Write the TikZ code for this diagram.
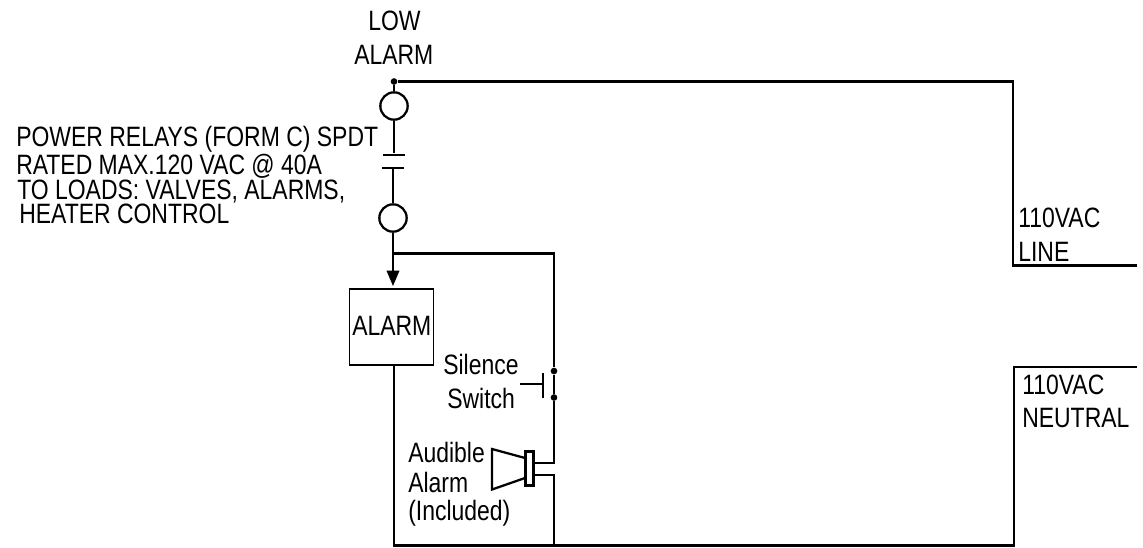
\documentclass[tikz,border=0pt]{standalone}
\usepackage{fontspec}
\setmainfont[FakeStretch=0.82]{Liberation Sans}
\usetikzlibrary{arrows,positioning}
\tikzset{
    wire/.style={line width=1.7pt},
    lamp/.style={circle,draw,line width=1.7pt,minimum size=20.5pt,inner sep=0pt},
    plate/.style={rectangle,fill=black,minimum width=16pt,minimum height=1.7pt,inner sep=0pt},
    junction/.style={circle,fill=black,minimum size=5pt,inner sep=0pt},
    lbl/.style={anchor=base west,inner sep=0pt,font=\fontsize{21}{21}\selectfont}
}
\begin{document}
\begin{tikzpicture}[x=0.75pt,y=-0.75pt,>=triangle 45,auto]
    \useasboundingbox (0,0) rectangle (1143,547);

    \node [junction] (jtop) at (394,81.5) {};
    \node [lamp] (lamptop) at (394,106) {};
    \node [plate] (platetop) [below=25.5pt of lamptop.south,anchor=center] {};
    \node [plate] (platelow) at (393,168) {};
    \node [lamp] (lamplow) at (393,218) {};
    \coordinate (jbranch) at (393,253.5);
    \node [draw,line width=0.8pt,minimum width=63.5pt,minimum height=57pt,inner sep=0pt] (alarmbox) at (391.5,327) {};

    \coordinate (lineup) at (1013,81.5);
    \coordinate (linedown) at (1013,265.5);
    \coordinate (lineend) at (1137,265.5);
    \coordinate (branchcorner) at (554,253.5);
    \node [junction] (jsila) at (554,371) {};
    \node [junction] (jsilb) at (554,397.5) {};
    \coordinate (hornup) at (554,463);
    \coordinate (horndown) at (554,475);
    \coordinate (botleft) at (394,545.5);
    \coordinate (botright) at (554,545.5);
    \coordinate (neutdown) at (1014,545.5);
    \coordinate (neutup) at (1014,367);
    \coordinate (neutend) at (1137,367);

    % switch
    \coordinate (swstem) at (520,384);
    \coordinate (swbar) at (543,384);
    \coordinate (swbara) at (543,373);
    \coordinate (swbarb) at (543,398);

    % horn
    \node [draw,line width=1.7pt,minimum width=6pt,minimum height=25.5pt,inner sep=0pt] (hornbox) at (529.5,468.5) {};
    \coordinate (conea) at (492,449);
    \coordinate (coneb) at (525,458);
    \coordinate (conec) at (525,478);
    \coordinate (coned) at (492,489.5);

    \draw [wire] (jtop) -- (lineup) -- (linedown) -- (lineend);
    \draw [wire] (jtop) -- (lamptop);
    \draw [wire] (lamptop) -- (platetop);
    \draw [wire] (platelow) -- (lamplow);
    \draw [wire,->] (lamplow) -- (393,286);
    \draw [wire] (jbranch) -- (branchcorner) -- (jsila) -- (jsilb) -- (hornup) -- (hornup -| hornbox.east);
    \draw [wire] (hornbox.east |- horndown) -- (horndown) -- (botright);
    \draw [wire] (alarmbox.south -| botleft) -- (botleft) -- (neutdown) -- (neutup) -- (neutend);
    \draw [wire] (swstem) -- (swbar);
    \draw [wire] (swbara) -- (swbarb);
    \draw [wire,line join=miter] (coneb) -- (conea) -- (coned) -- (conec);

    \node [lbl] (tlow) at (368,30) {LOW};
    \node [lbl] (talarm) at (354,64) {ALARM};
    \node [lbl] (tpower) at (16,146) {POWER RELAYS (FORM C) SPDT};
    \node [lbl] (trated) at (16,174) {RATED MAX.120 VAC @ 40A};
    \node [lbl] (tloads) at (17,199) {TO LOADS: VALVES, ALARMS,};
    \node [lbl] (theater) at (19,223) {HEATER CONTROL};
    \node [lbl] (tbox) at (352,335) {ALARM};
    \node [lbl] (tsila) at (443,374) {Silence};
    \node [lbl] (tsilb) at (447,408) {Switch};
    \node [lbl] (taud) at (408,462) {Audible};
    \node [lbl] (taudb) at (408,492) {Alarm};
    \node [lbl] (taudc) at (408,520) {(Included)};
    \node [lbl] (tline) at (1018,227) {110VAC};
    \node [lbl] (tlineb) at (1018,261) {LINE};
    \node [lbl] (tneut) at (1022,394) {110VAC};
    \node [lbl] (tneutb) at (1022,427) {NEUTRAL};
\end{tikzpicture}
\end{document}
